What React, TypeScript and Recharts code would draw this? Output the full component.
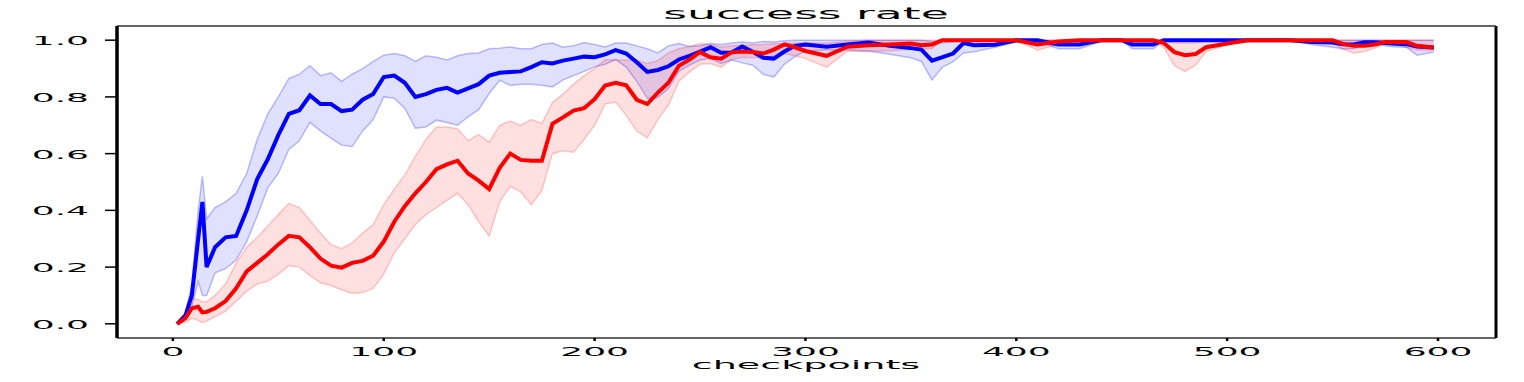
import React from 'react';
import { ComposedChart, Line, Area, XAxis, YAxis, ReferenceLine } from 'recharts';

const checkpoints = [
  2, 6, 9, 12, 14, 16,
  20, 25, 30, 35, 40, 45, 50, 55, 60, 65, 70, 75, 80, 85, 90, 95, 100, 105, 110, 115, 120, 125, 130, 135,
  140, 145, 150, 155, 160, 165, 170, 175, 180, 185, 190, 195, 200, 205, 210, 215, 220, 225, 230, 235,
  240, 245, 250, 255, 260, 265, 270, 275, 280, 285, 290, 295, 300,
  310, 320, 330, 340, 350,
  355, 360, 365, 370, 375, 380,
  390, 400, 410, 420, 430, 440, 450,
  455, 465, 470, 475, 480, 485, 490,
  500, 510, 520, 530, 540, 550,
  555, 560, 565, 570, 575, 580, 585, 590, 598,
];

const blueMean = [
  0.0, 0.03, 0.1, 0.3, 0.43, 0.2,
  0.27, 0.305, 0.31, 0.4, 0.51, 0.58, 0.665, 0.74, 0.753, 0.805, 0.775, 0.775, 0.75, 0.755, 0.79, 0.81, 0.87, 0.875, 0.85, 0.8, 0.81, 0.825, 0.832, 0.815,
  0.83, 0.845, 0.875, 0.885, 0.888, 0.89, 0.905, 0.922, 0.918, 0.928, 0.935, 0.942, 0.94, 0.95, 0.965, 0.953, 0.922, 0.888, 0.895, 0.908,
  0.932, 0.945, 0.96, 0.975, 0.956, 0.957, 0.978, 0.959, 0.938, 0.935, 0.96, 0.98, 0.985,
  0.977, 0.985, 0.992, 0.98, 0.972,
  0.967, 0.928, 0.94, 0.953, 0.99, 0.982,
  0.984, 1, 1, 0.985, 0.985, 1, 1,
  0.985, 0.985, 1, 1, 1, 1, 1,
  1, 1, 1, 1, 0.994, 0.992,
  0.986, 0.985, 0.993, 0.993, 0.99, 0.987, 0.986, 0.978, 0.974,
];

const blueHigh = [
  0.0, 0.04, 0.14, 0.4, 0.52, 0.37,
  0.41, 0.43, 0.46, 0.53, 0.65, 0.74, 0.8, 0.865, 0.88, 0.91, 0.875, 0.885, 0.855, 0.88, 0.9, 0.925, 0.947, 0.953, 0.945, 0.925, 0.945, 0.94, 0.93, 0.945,
  0.953, 0.955, 0.97, 0.972, 0.976, 0.97, 0.97, 0.985, 0.99, 0.975, 0.98, 0.992, 0.985, 0.976, 0.99, 0.99, 0.98, 0.97, 0.955, 0.98,
  0.988, 0.978, 0.98, 0.988, 0.985, 0.99, 0.994, 0.99, 0.995, 0.994, 0.998, 1, 1,
  1, 1, 1, 1, 1,
  1, 0.995, 0.99, 0.995, 1, 1,
  1, 1, 1, 1, 1, 1, 1,
  1, 1, 1, 1, 1, 1, 1,
  1, 1, 1, 1, 1, 1,
  1, 1, 1, 1, 1, 1, 1, 1, 1,
];

const blueLow = [
  0.0, 0.02, 0.06, 0.15, 0.1, 0.1,
  0.18, 0.195, 0.225, 0.29, 0.38, 0.48, 0.53, 0.615, 0.645, 0.71, 0.68, 0.655, 0.63, 0.625, 0.68, 0.72, 0.8, 0.795, 0.76, 0.69, 0.694, 0.718, 0.71, 0.7,
  0.73, 0.755, 0.812, 0.859, 0.84, 0.845, 0.845, 0.841, 0.835, 0.86, 0.875, 0.89, 0.906, 0.915, 0.932, 0.905, 0.855, 0.795, 0.798, 0.83,
  0.89, 0.912, 0.93, 0.935, 0.918, 0.93, 0.92, 0.912, 0.88, 0.87, 0.915, 0.942, 0.962,
  0.965, 0.965, 0.962, 0.95, 0.938,
  0.925, 0.86, 0.905, 0.924, 0.955, 0.959,
  0.975, 0.994, 0.995, 0.97, 0.97, 0.995, 1,
  0.97, 0.97, 0.998, 1, 1, 1, 1,
  1, 1, 1, 1, 0.985, 0.975,
  0.97, 0.97, 0.985, 0.985, 0.98, 0.976, 0.975, 0.947, 0.958,
];

const redMean = [
  0.0, 0.02, 0.055, 0.06, 0.04, 0.042,
  0.055, 0.08, 0.125, 0.185, 0.215, 0.245, 0.28, 0.31, 0.305, 0.27, 0.23, 0.205, 0.198, 0.215, 0.222, 0.24, 0.29, 0.36, 0.415, 0.46, 0.5, 0.545, 0.562, 0.575,
  0.53, 0.505, 0.475, 0.55, 0.6, 0.578, 0.575, 0.575, 0.705, 0.728, 0.752, 0.76, 0.792, 0.84, 0.85, 0.841, 0.79, 0.775, 0.815, 0.85,
  0.91, 0.932, 0.958, 0.94, 0.935, 0.957, 0.96, 0.958, 0.953, 0.967, 0.985, 0.975, 0.962,
  0.945, 0.977, 0.982, 0.985, 0.988,
  0.982, 0.985, 1, 1, 1, 1,
  1, 1, 0.985, 0.995, 1, 1, 1,
  1, 1, 0.99, 0.958, 0.947, 0.951, 0.975,
  0.988, 1, 1, 1, 1, 1,
  0.987, 0.98, 0.98, 0.985, 0.994, 0.994, 0.994, 0.98, 0.974,
];

const redHigh = [
  0.0, 0.04, 0.09, 0.085, 0.078, 0.077,
  0.1, 0.14, 0.215, 0.27, 0.305, 0.345, 0.385, 0.425, 0.41, 0.365, 0.32, 0.28, 0.265, 0.285, 0.32, 0.35, 0.42, 0.475, 0.525, 0.59, 0.65, 0.694, 0.694, 0.688,
  0.645, 0.668, 0.64, 0.7, 0.715, 0.7, 0.72, 0.706, 0.78, 0.81, 0.845, 0.875, 0.9, 0.932, 0.93, 0.93, 0.928, 0.918, 0.928, 0.955,
  0.97, 0.978, 0.988, 0.985, 0.976, 0.98, 0.982, 0.984, 0.985, 0.987, 0.988, 0.99, 0.99,
  0.99, 0.995, 1, 1, 1,
  1, 1, 1, 1, 1, 1,
  1, 1, 1, 1, 1, 1, 1,
  1, 1, 1, 0.99, 0.99, 0.99, 1,
  1, 1, 1, 1, 1, 1,
  1, 1, 1, 1, 1, 1, 1, 1, 1,
];

const redLow = [
  0.0, 0.005, 0.02, 0.012, 0.005, 0.01,
  0.025, 0.045, 0.08, 0.115, 0.14, 0.15, 0.175, 0.205, 0.2, 0.17, 0.145, 0.135, 0.12, 0.108, 0.11, 0.125, 0.175, 0.25, 0.3, 0.35, 0.385, 0.41, 0.435, 0.46,
  0.42, 0.36, 0.31, 0.43, 0.485, 0.465, 0.42, 0.47, 0.6, 0.61, 0.605, 0.65, 0.7, 0.775, 0.782, 0.735, 0.68, 0.655, 0.72, 0.77,
  0.855, 0.888, 0.915, 0.918, 0.905, 0.932, 0.94, 0.938, 0.94, 0.945, 0.953, 0.945, 0.935,
  0.905, 0.962, 0.96, 0.963, 0.968,
  0.968, 0.97, 1, 1, 1, 1,
  1, 1, 0.965, 0.985, 1, 1, 1,
  1, 1, 0.975, 0.91, 0.89, 0.912, 0.96,
  0.985, 1, 1, 1, 1, 0.99,
  0.968, 0.955, 0.96, 0.972, 0.99, 0.985, 0.975, 0.965, 0.965,
];

const xTicks = [0, 100, 200, 300, 400, 500, 600];
const yTicks = [0, 0.2, 0.4, 0.6, 0.8, 1.0];

const rows = checkpoints.map((x, i) => ({
  x,
  blueMean: blueMean[i],
  redMean: redMean[i],
  blueBand: [blueLow[i], blueHigh[i]],
  redBand: [redLow[i], redHigh[i]],
}));

const FONT = 'DejaVu Sans';

// text in the reference is stretched ~3x horizontally
const XTick = ({ x, y, payload }: any) => (
  <text transform={`translate(${x},${y + 12.5}) scale(3,1)`} textAnchor="middle"
    fontFamily={FONT} fontSize={12} fill="#000">
    {payload.value}
  </text>
);

const YTick = ({ x, y, payload }: any) => (
  <text transform={`translate(${x - 14},${y + 5}) scale(3,1)`} textAnchor="end"
    fontFamily={FONT} fontSize={12} fill="#000">
    {Number(payload.value).toFixed(1)}
  </text>
);

export default function App() {
  return (
    <div style={{ position: 'fixed', left: 0, top: 0, width: 1524, height: 382, background: '#fff' }}>
      <ComposedChart width={1524} height={382} data={rows}
        margin={{ top: 26, right: 28, bottom: 0, left: 0 }}>
        <XAxis dataKey="x" type="number" domain={[-26.5, 627.5]} ticks={xTicks}
          height={44} axisLine={{ stroke: '#333', strokeWidth: 1.5 }} tickSize={3}
          tickLine={{ stroke: '#000', strokeWidth: 2.5 }} tick={<XTick />} />
        <YAxis type="number" domain={[-0.05, 1.05]} ticks={yTicks}
          width={117} axisLine={{ stroke: '#000', strokeWidth: 3 }} tickSize={12}
          tickLine={{ stroke: '#000', strokeWidth: 1.5 }} tick={<YTick />} />
        <Area type="linear" dataKey="blueBand" stroke="#0000ff" strokeOpacity={0.25} strokeWidth={1.5}
          fill="#0000ff" fillOpacity={0.12} dot={false} activeDot={false} isAnimationActive={false} />
        <Area type="linear" dataKey="redBand" stroke="#ff0000" strokeOpacity={0.2} strokeWidth={1.5}
          fill="#ff0000" fillOpacity={0.12} dot={false} activeDot={false} isAnimationActive={false} />
        <Line type="linear" dataKey="blueMean" stroke="#0000ff" strokeWidth={4}
          dot={false} activeDot={false} isAnimationActive={false} />
        <Line type="linear" dataKey="redMean" stroke="#ff0000" strokeWidth={4}
          dot={false} activeDot={false} isAnimationActive={false} />
        <ReferenceLine x={-26.5} stroke="#000" strokeWidth={3} ifOverflow="visible" />
        <ReferenceLine x={627.5} stroke="#000" strokeWidth={3} ifOverflow="visible" />
        <ReferenceLine y={1.05} stroke="#333" strokeWidth={1.5} ifOverflow="visible" />
      </ComposedChart>
      <svg width={1524} height={382} style={{ position: 'absolute', left: 0, top: 0, pointerEvents: 'none' }}>
        <text transform="translate(806,19) scale(3,1)" textAnchor="middle" fontFamily={FONT} fontSize={15.2} fill="#000">
          success rate
        </text>
        <text transform="translate(806,369) scale(3,1)" textAnchor="middle" fontFamily={FONT} fontSize={12.7} fill="#000">
          checkpoints
        </text>
      </svg>
    </div>
  );
}
